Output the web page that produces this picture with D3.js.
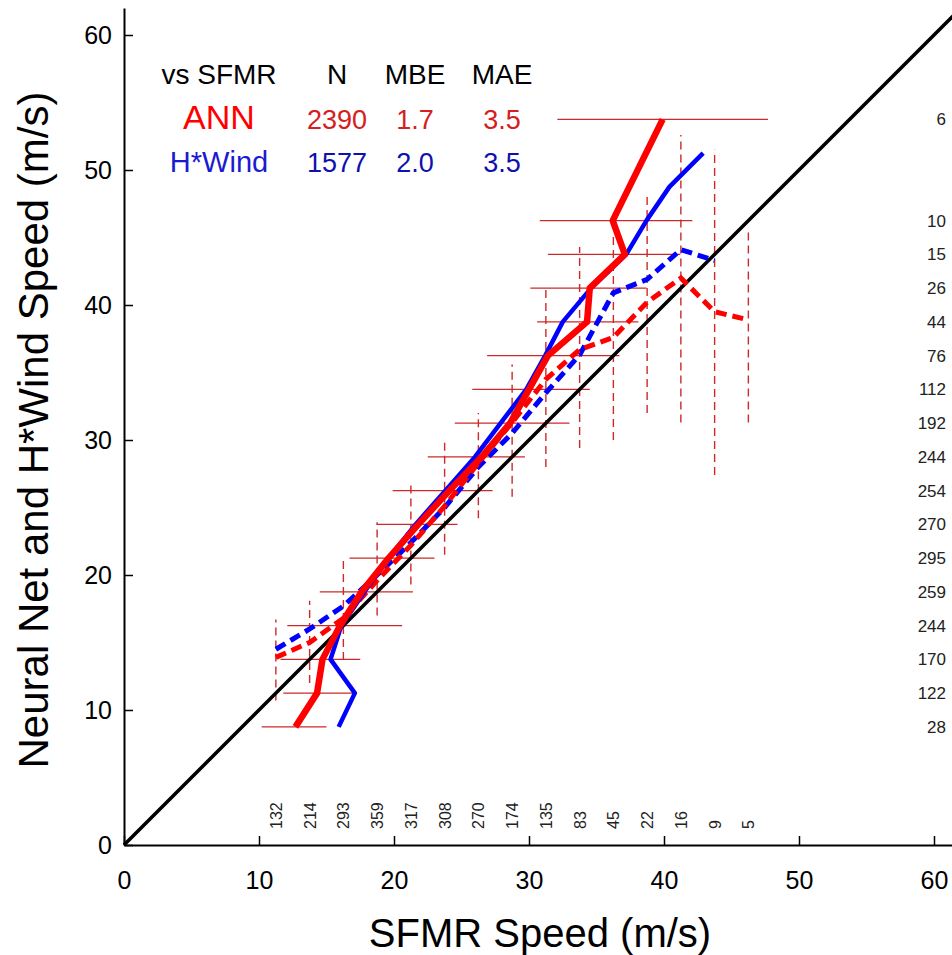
<!DOCTYPE html>
<html>
<head>
<meta charset="utf-8">
<script src="https://cdn.jsdelivr.net/npm/d3@7"></script>
<style>
  body { margin: 0; background: #fff; }
  svg { display: block; font-family: "Liberation Sans", Arial, sans-serif; }
</style>
</head>
<body>
<svg id="chart" width="952" height="955"></svg>
<script>
// ---- data ----

// SFMR bins (x), ANN mean and spread per bin (vertical dashed bars)
const xBins = [11.25, 13.75, 16.25, 18.75, 21.25, 23.75, 26.25, 28.75, 31.25, 33.75, 36.25, 38.75, 41.25, 43.75, 46.25]
const xBinCounts = [132, 214, 293, 359, 317, 308, 270, 174, 135, 83, 45, 22, 16, 9, 5]
const annByX = [13.9, 15.0, 16.8, 19.6, 22.2, 25.1, 28.3, 31.3, 34.5, 36.7, 37.6, 40.2, 42.0, 39.5, 38.9]
const annByXLow = [10.7, 12.0, 13.7, 17.0, 19.3, 21.5, 24.2, 25.8, 28.0, 29.4, 30.0, 32.0, 31.3, 27.4, 31.3]
const annByXHigh = [16.7, 18.1, 21.1, 23.9, 26.9, 29.9, 32.0, 35.6, 41.4, 44.3, 45.4, 48.3, 52.6, 51.5, 45.7]
const hwByX = [14.5, 16.0, 17.7, 20.0, 22.4, 25.0, 28.0, 30.5, 33.5, 36.3, 40.9, 41.9, 44.1, 43.3]

// ANN speed bins (y), mean SFMR and spread per bin (horizontal bars)
const yBinsAnn = [8.75, 11.25, 13.75, 16.25, 18.75, 21.25, 23.75, 26.25, 28.75, 31.25, 33.75, 36.25, 38.75, 41.25, 43.75, 46.25, 53.75]
const yBinCounts = [28, 122, 170, 244, 259, 295, 270, 254, 244, 192, 112, 76, 44, 26, 15, 10, 6]
const sfmrByAnn = [12.7, 14.3, 14.7, 16.0, 17.6, 19.6, 21.8, 24.1, 26.5, 28.6, 30.0, 31.4, 34.3, 34.5, 37.1, 36.2, 39.9]
const sfmrByAnnLow = [10.2, 11.8, 11.6, 12.1, 14.5, 16.7, 18.7, 19.9, 22.5, 24.5, 25.8, 26.9, 30.6, 30.1, 31.4, 30.8, 32.1]
const sfmrByAnnHigh = [15.0, 17.2, 17.5, 20.6, 21.4, 23.0, 24.7, 27.3, 29.7, 33.0, 34.5, 36.7, 38.1, 38.7, 41.2, 42.1, 47.7]

// H*Wind speed bins (y), mean SFMR per bin
const yBinsHw = [8.75, 11.25, 13.75, 16.25, 18.75, 21.25, 23.75, 26.25, 28.75, 31.25, 33.75, 36.25, 38.75, 41.25, 43.75, 46.25, 48.75, 51.25]
const sfmrByHw = [15.9, 17.1, 15.3, 16.1, 17.8, 19.6, 21.6, 23.8, 26.0, 27.9, 29.8, 31.2, 32.5, 34.6, 37.2, 38.7, 40.4, 42.9]

// stats table
const statHeader = ["vs SFMR", "N", "MBE", "MAE"]
const statAnn = ["ANN", "2390", "1.7", "3.5"]
const statHw = ["H*Wind", "1577", "2.0", "3.5"]

const ticks = [0, 10, 20, 30, 40, 50, 60]

// ---- drawing ----
const svg = d3.select("#chart")
const x = d3.scaleLinear().domain([0, 62]).range([124, 124 + 62 * 13.5])
const y = d3.scaleLinear().domain([0, 62]).range([845, 845 - 62 * 13.5])

const RED = "#ff0000", BLUE = "#0000ff", BAR = "#cc2a2a"

// horizontal error bars (solid, thin)
svg.append("g").selectAll("line")
    .data(yBinsAnn).enter().append("line")
    .attr("x1", (d, i) => x(sfmrByAnnLow[i]))
    .attr("x2", (d, i) => x(sfmrByAnnHigh[i]))
    .attr("y1", d => y(d)).attr("y2", d => y(d))
    .attr("stroke", BAR).attr("stroke-width", 1.4)

// vertical error bars (dashed, thin)
svg.append("g").selectAll("line")
    .data(xBins).enter().append("line")
    .attr("x1", d => x(d)).attr("x2", d => x(d))
    .attr("y1", (d, i) => y(annByXLow[i]))
    .attr("y2", (d, i) => y(annByXHigh[i]))
    .attr("stroke", BAR).attr("stroke-width", 1.4)
    .attr("stroke-dasharray", "8,5")

// 1:1 line
svg.append("line")
    .attr("x1", x(0)).attr("y1", y(0))
    .attr("x2", x(62)).attr("y2", y(62))
    .attr("stroke", "#000").attr("stroke-width", 3.5)

const line = d3.line()

// dashed: binned by SFMR
svg.append("path")
    .attr("d", line(hwByX.map((v, i) => [x(xBins[i]), y(v)])))
    .attr("fill", "none").attr("stroke", BLUE).attr("stroke-width", 5)
    .attr("stroke-dasharray", "11,6")
svg.append("path")
    .attr("d", line(annByX.map((v, i) => [x(xBins[i]), y(v)])))
    .attr("fill", "none").attr("stroke", RED).attr("stroke-width", 5)
    .attr("stroke-dasharray", "11,6")

// solid: binned by model speed
svg.append("path")
    .attr("d", line(sfmrByHw.map((v, i) => [x(v), y(yBinsHw[i])])))
    .attr("fill", "none").attr("stroke", BLUE).attr("stroke-width", 4.5)
    .attr("stroke-linejoin", "round")
svg.append("path")
    .attr("d", line(sfmrByAnn.map((v, i) => [x(v), y(yBinsAnn[i])])))
    .attr("fill", "none").attr("stroke", RED).attr("stroke-width", 6.5)
    .attr("stroke-linejoin", "round")

// axes
const xAxis = svg.append("g")
    .attr("transform", "translate(0," + y(0) + ")")
    .call(d3.axisBottom(x).tickValues(ticks).tickSizeInner(-9).tickSizeOuter(0).tickPadding(30))
const yAxis = svg.append("g")
    .attr("transform", "translate(" + x(0) + ",0)")
    .call(d3.axisLeft(y).tickValues(ticks).tickSizeInner(-9).tickSizeOuter(0).tickPadding(12))
;[xAxis, yAxis].forEach(g => {
    g.select(".domain").attr("stroke", "#000").attr("stroke-width", 2)
    g.selectAll(".tick line").attr("stroke", "#000").attr("stroke-width", 1.5)
    g.selectAll(".tick text").attr("font-size", 25).attr("fill", "#000")
        .attr("font-family", "Liberation Sans, Arial, sans-serif")
})
xAxis.selectAll(".tick text").attr("dy", "0.55em")

// axis titles
svg.append("text")
    .attr("x", 540).attr("y", 947)
    .attr("text-anchor", "middle").attr("font-size", 40)
    .text("SFMR Speed (m/s)")
svg.append("text")
    .attr("transform", "translate(48," + 430 + ") rotate(-90)")
    .attr("text-anchor", "middle").attr("font-size", 42)
    .text("Neural Net and H*Wind Speed (m/s)")

// counts per SFMR bin (bottom, rotated)
svg.append("g").selectAll("text")
    .data(xBins).enter().append("text")
    .attr("transform", d => "translate(" + (x(d) + 6) + ",829) rotate(-90)")
    .attr("text-anchor", "start").attr("font-size", 16).attr("fill", "#222")
    .text((d, i) => xBinCounts[i])

// counts per ANN bin (right)
svg.append("g").selectAll("text")
    .data(yBinsAnn).enter().append("text")
    .attr("x", 946).attr("y", d => y(d) + 6)
    .attr("text-anchor", "end").attr("font-size", 17).attr("fill", "#222")
    .text((d, i) => yBinCounts[i])

// stats table
const colX = [219, 337, 415, 502]
const rows = [
    {vals: statHeader, y: 84, size: [28, 28, 28, 28], fill: ["#000", "#000", "#000", "#000"]},
    {vals: statAnn, y: 129, size: [34, 27, 27, 27], fill: [RED, "#d42020", "#d42020", "#d42020"]},
    {vals: statHw, y: 172, size: [29, 27, 27, 27], fill: ["#1a1ad0", "#1010b0", "#1010b0", "#1010b0"]}
]
rows.forEach(r => {
    svg.append("g").selectAll("text")
        .data(r.vals).enter().append("text")
        .attr("x", (d, i) => colX[i]).attr("y", r.y)
        .attr("text-anchor", "middle")
        .attr("font-size", (d, i) => r.size[i])
        .attr("fill", (d, i) => r.fill[i])
        .text(d => d)
})
</script>
</body>
</html>
